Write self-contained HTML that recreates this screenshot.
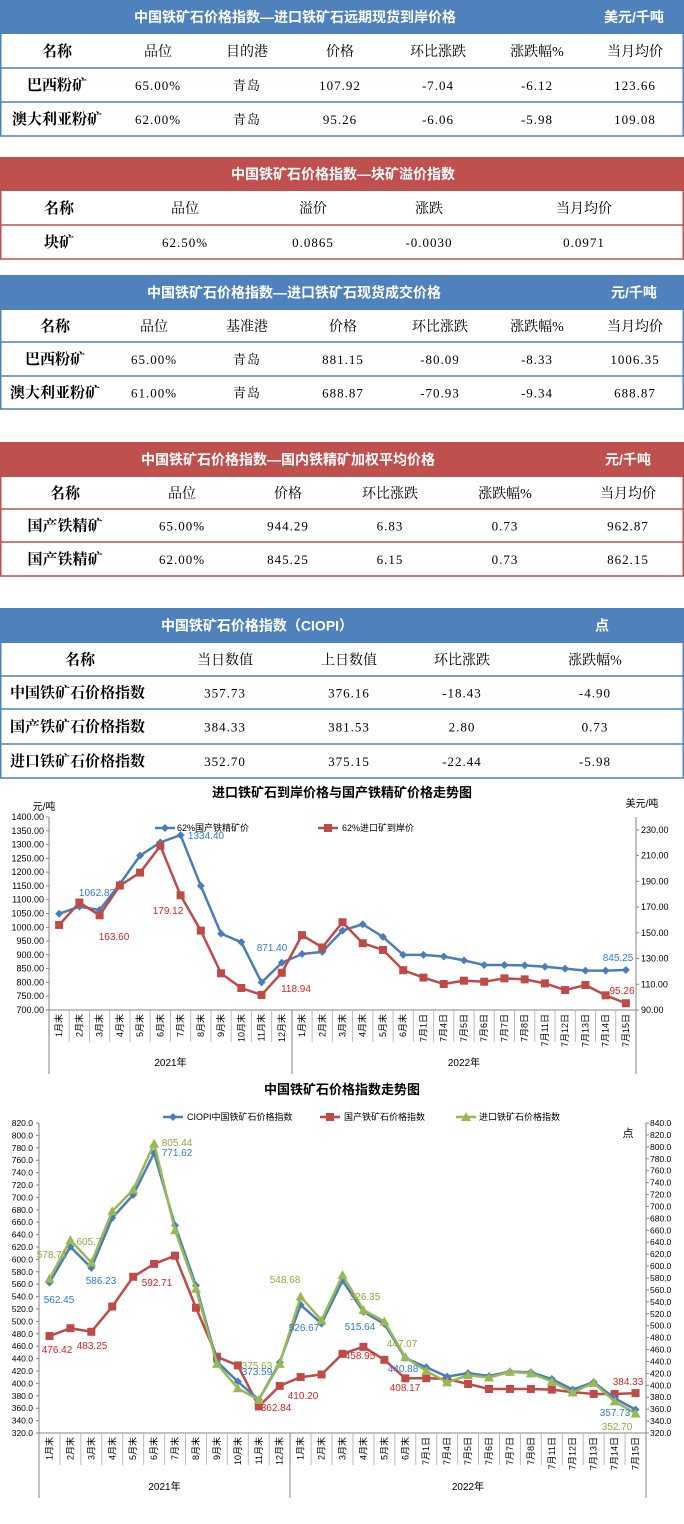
<!DOCTYPE html>
<html><head><meta charset="utf-8">
<style>
html,body{margin:0;padding:0;background:#fff;}
svg{display:block;}
</style></head>
<body>
<svg id="s" width="684" height="1524" xmlns="http://www.w3.org/2000/svg"></svg>
<script>
const S=document.getElementById('s');let h='';
const BL='#4F81BD',RD='#C0504D';
function txt(x,y,s,o){o=o||{};h+=`<text x="${x}" y="${y}" font-size="${o.fs||13}" fill="${o.c||'#000'}" text-anchor="${o.a||'middle'}" font-weight="${o.w||'normal'}"${o.ls?` letter-spacing="${o.ls}"`:''} font-family="${o.f||'Liberation Sans, Noto Sans CJK SC, sans-serif'}"${o.tr?` transform="${o.tr}"`:''}>${s}</text>`;}
function line(x1,y1,x2,y2,c,w){h+=`<line x1="${x1}" y1="${y1}" x2="${x2}" y2="${y2}" stroke="${c}" stroke-width="${w||1}"/>`;}
const SER='Liberation Serif, Noto Serif CJK SC, serif';
function table(col,band,rows,cols,title,tx,unit,ux,data,leftName){
  h+=`<rect x="0" y="${band[0]}" width="684" height="${band[1]-band[0]}" fill="${col}"/>`;
  txt(tx,band[0]+(band[1]-band[0])/2+5,title,{c:'#fff',w:'bold',fs:14});
  if(unit)txt(ux,band[0]+(band[1]-band[0])/2+5,unit,{c:'#fff',w:'bold',fs:14});
  const top=band[1],bot=rows[rows.length-1];
  line(0.75,top,0.75,bot,col,1.5);line(683.25,top,683.25,bot,col,1.5);
  rows.forEach(r=>line(0,r,684,r,col,1.5));
  let prev=top;
  rows.forEach((r,i)=>{const cy=(prev+r)/2+5;
    data[i].forEach((s,j)=>{
      if(j==0){ if(leftName&&i>0)txt(10,cy,s,{a:'start',w:'bold',fs:15,f:SER}); else txt(cols[0],cy,s,{w:'bold',fs:15,f:SER});}
      else txt(cols[j],cy,s,{fs:i==0?14:13,f:SER,ls:i==0?0:1});
    });prev=r;});
}
table(BL,[0,34],[68,102,136],[57,158,247,340,438,537,635],'中国铁矿石价格指数—进口铁矿石远期现货到岸价格',295,'美元/千吨',634,
[['名称','品位','目的港','价格','环比涨跌','涨跌幅%','当月均价'],['巴西粉矿','65.00%','青岛','107.92','-7.04','-6.12','123.66'],['澳大利亚粉矿','62.00%','青岛','95.26','-6.06','-5.98','109.08']]);
table(RD,[157,191],[225,259],[59,185,313,429,584],'中国铁矿石价格指数—块矿溢价指数',343,'',0,
[['名称','品位','溢价','涨跌','当月均价'],['块矿','62.50%','0.0865','-0.0030','0.0971']]);
table(BL,[275,310],[342,376,409],[55,154,247,343,440,537,635],'中国铁矿石价格指数—进口铁矿石现货成交价格',294,'元/千吨',634,
[['名称','品位','基准港','价格','环比涨跌','涨跌幅%','当月均价'],['巴西粉矿','65.00%','青岛','881.15','-80.09','-8.33','1006.35'],['澳大利亚粉矿','61.00%','青岛','688.87','-70.93','-9.34','688.87']]);
table(RD,[442,477],[509,542,576],[65,182,288,390,505,628],'中国铁矿石价格指数—国内铁精矿加权平均价格',288,'元/千吨',628,
[['名称','品位','价格','环比涨跌','涨跌幅%','当月均价'],['国产铁精矿','65.00%','944.29','6.83','0.73','962.87'],['国产铁精矿','62.00%','845.25','6.15','0.73','862.15']]);
table(BL,[608,643],[676,709,744,778],[80,225,349,462,595],'中国铁矿石价格指数（CIOPI）',257,'点',602,
[['名称','当日数值','上日数值','环比涨跌','涨跌幅%'],['中国铁矿石价格指数','357.73','376.16','-18.43','-4.90'],['国产铁矿石价格指数','384.33','381.53','2.80','0.73'],['进口铁矿石价格指数','352.70','375.15','-22.44','-5.98']],true);

const cats=['1月末','2月末','3月末','4月末','5月末','6月末','7月末','8月末','9月末','10月末','11月末','12月末','1月末','2月末','3月末','4月末','5月末','6月末','7月1日','7月4日','7月5日','7月6日','7月7日','7月8日','7月11日','7月12日','7月13日','7月14日','7月15日'];
const BC='#4A7EBB',RC='#BE4B48',GC='#98B954';
function marker(t,x,y,c){
  if(t=='d')h+=`<path d="M${x} ${y-4}L${x+4} ${y}L${x} ${y+4}L${x-4} ${y}Z" fill="${c}"/>`;
  else if(t=='s')h+=`<rect x="${x-4}" y="${y-4}" width="8" height="8" fill="${c}"/>`;
  else h+=`<path d="M${x} ${y-5}L${x+5} ${y+4}L${x-5} ${y+4}Z" fill="${c}"/>`;
}
function series(vals,X,Y,c,m){
  h+=`<polyline fill="none" stroke="${c}" stroke-width="2.5" stroke-linejoin="round" points="${vals.map((v,i)=>X(i)+','+Y(v)).join(' ')}"/>`;
  vals.forEach((v,i)=>marker(m,X(i),Y(v),c));
}
function axisCats(x0,x1,y0,sepMid,yearY){
  const w=(x1-x0)/29;
  line(x0,y0,x1,y0,'#868686',1);
  for(let i=0;i<=29;i++){const x=x0+i*w;line(x,y0,x,y0+32,'#bbb',1);}
  line(x0,y0,x0,yearY+8,'#868686',1);line(x1,y0,x1,yearY+8,'#868686',1);
  line(sepMid,y0,sepMid,yearY+8,'#868686',1);
  cats.forEach((s,i)=>{const x=x0+(i+.5)*w+3;txt(x,y0+4,s,{a:'end',fs:9,tr:`rotate(-90 ${x} ${y0+4})`});});
  txt((x0+sepMid)/2,yearY,'2021年',{fs:10});txt((sepMid+x1)/2,yearY,'2022年',{fs:10});
}
// Chart 1
{
 const x0=49,x1=636,w=(x1-x0)/29,X=i=>x0+(i+.5)*w;
 const yT=817,yB=1010,YL=v=>yB-(v-700)/700*(yB-yT),YR=v=>yB-(v-90)/150*(yB-yT);
 txt(342,797,'进口铁矿石到岸价格与国产铁精矿价格走势图',{w:'bold',fs:13});
 txt(44,810,'元/吨',{fs:10});txt(642,807,'美元/吨',{fs:10,a:'middle'});
 line(x0,yT,x0,yB,'#868686');line(x1,yT,x1,yB,'#868686');
 for(let v=700;v<=1400;v+=50){txt(44,YL(v)+3,v.toFixed(2),{a:'end',fs:9});line(x0-3,YL(v),x0,YL(v),'#868686');}
 for(let v=90;v<=230;v+=20){txt(641,YR(v)+3,v.toFixed(2),{a:'start',fs:9});line(x1,YR(v),x1+3,YR(v),'#868686');}
 axisCats(x0,x1,yB,292,1066);
 h+=`<line x1="155" y1="828" x2="175" y2="828" stroke="${BC}" stroke-width="2.5"/>`;marker('d',165,828,BC);txt(177,831,'62%国产铁精矿价',{a:'start',fs:9});
 h+=`<line x1="318" y1="828" x2="338" y2="828" stroke="${RC}" stroke-width="2.5"/>`;marker('s',328,828,RC);txt(342,831,'62%进口矿到岸价',{a:'start',fs:9});
 const b=[1049,1075,1062.82,1157,1260,1308,1334.4,1150,977,946,800,871.4,903,911,988,1011,965,900,900,894,880,863,863,862,857,850,843,843,845.25];
 const r=[156.1,173.5,163.6,186.7,196.8,217.6,179.12,151.7,118.5,107.1,101.7,118.94,148.2,138.6,158.2,141.9,136.7,120.9,115.2,110.2,112.8,112,114.6,113.8,110.7,105.5,109.4,101.4,95.26];
 series(b,X,YL,BC,'d');series(r,X,YR,RC,'s');
 const LB='#2E7BD6',LR='#E0201F';
 [[97,896,'1062.82',LB],[206,839,'1334.40',LB],[272,951,'871.40',LB],[618,961,'845.25',LB],[168,914,'179.12',LR],[114,940,'163.60',LR],[296,992,'118.94',LR],[622,994,'95.26',LR]].forEach(a=>txt(a[0],a[1],a[2],{c:a[3],fs:10}));
}
// Chart 2
{
 const x0=39,x1=646,w=(x1-x0)/29,X=i=>x0+(i+.5)*w;
 const yT=1123,yB=1433,YL=v=>yB-(v-320)/500*(yB-yT),YR=v=>yB-(v-320)/520*(yB-yT);
 txt(342,1094,'中国铁矿石价格指数走势图',{w:'bold',fs:13});
 txt(628,1137,'点',{fs:11});
 line(x0,yT,x0,yB,'#868686');line(x1,yT,x1,yB,'#868686');
 for(let v=320;v<=820;v+=20){txt(33,YL(v)+3,v.toFixed(1),{a:'end',fs:8.5});line(x0-3,YL(v),x0,YL(v),'#868686');}
 for(let v=320;v<=840;v+=20){txt(650,YR(v)+3,v.toFixed(1),{a:'start',fs:8.5});line(x1,YR(v),x1+3,YR(v),'#868686');}
 axisCats(x0,x1,yB,290,1490);
 h+=`<line x1="163" y1="1117" x2="183" y2="1117" stroke="${BC}" stroke-width="2.5"/>`;marker('d',173,1117,BC);txt(187,1120,'CIOPI中国铁矿石价格指数',{a:'start',fs:9});
 h+=`<line x1="320" y1="1117" x2="340" y2="1117" stroke="${RC}" stroke-width="2.5"/>`;marker('s',330,1117,RC);txt(344,1120,'国产铁矿石价格指数',{a:'start',fs:9});
 h+=`<line x1="456" y1="1117" x2="476" y2="1117" stroke="${GC}" stroke-width="2.5"/>`;marker('t',466,1117,GC);txt(479,1120,'进口铁矿石价格指数',{a:'start',fs:9});
 const b=[562.45,620.4,586.23,667,704,771.62,654.8,558,435,403,373.59,434,526.67,496.5,565.7,515.64,496,440.88,426,411,416.6,412,419,418,407,390,402,376,357.73];
 const r=[476.42,489,483.25,524,572,592.71,606,522,443,429,362.84,396,410.2,414.4,447.7,458.95,438,408.17,408.5,407,399,391,391,391,390,386,383,383,384.33];
 const g=[578.71,643.6,605.7,692,728,805.44,660,562,436,395,375.63,436,548.68,509,585,526.35,507,447.07,424,405,417,413,422.5,420,406.6,388,404,373,352.7];
 series(r,X,YL,RC,'s');series(b,X,YL,BC,'d');series(g,X,YR,GC,'t');
 const LB='#2E7BD6',LR='#E0201F',LG='#8FA83F';
 [[52,1258,'578.71',LG],[89,1245,'605.7',LG],[177,1146,'805.44',LG],[177,1156,'771.62',LB],[59,1303,'562.45',LB],[101,1284,'586.23',LB],[157,1286,'592.71',LR],[57,1353,'476.42',LR],[92,1349,'483.25',LR],[257,1369,'375.63',LG],[257,1375,'373.59',LB],[276,1411,'362.84',LR],[285,1283,'548.68',LG],[304,1331,'526.67',LB],[303,1399,'410.20',LR],[365,1300,'526.35',LG],[360,1330,'515.64',LB],[360,1359,'458.95',LR],[402,1347,'447.07',LG],[403,1372,'440.88',LB],[405,1391,'408.17',LR],[628,1385,'384.33',LR],[615,1416,'357.73',LB],[617,1430,'352.70',LG]].forEach(a=>txt(a[0],a[1],a[2],{c:a[3],fs:10}));
}
S.innerHTML=h;
</script>
</body></html>
